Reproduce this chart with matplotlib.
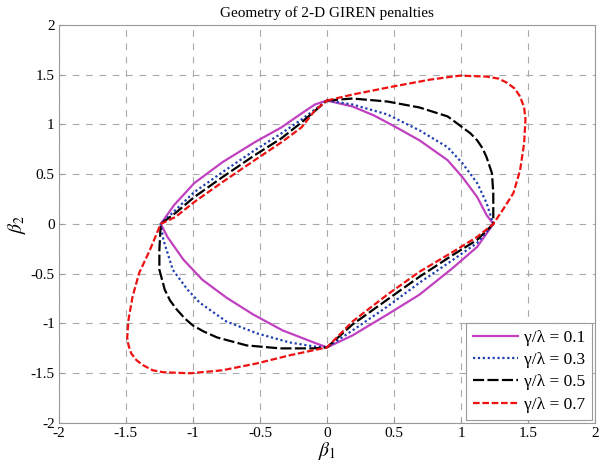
import numpy as np
import matplotlib
matplotlib.use('Agg')
import matplotlib.pyplot as plt

plt.rcParams['font.family'] = ['Liberation Serif', 'DejaVu Serif']
plt.rcParams['mathtext.fontset'] = 'stix'

# contour points, going clockwise from (0, 1.24)
b1_g01 = [0, 0.19, 0.35, 0.49, 0.69, 0.90, 1.01, 1.12, 1.19, 1.24,
          1.12, 0.94, 0.69, 0.45, 0.19, 0,
          -0.10, -0.33, -0.55, -0.75, -0.93, -1.07, -1.19, -1.24,
          -1.14, -0.99, -0.78, -0.54, -0.34, -0.19, -0.09, 0]
b2_g01 = [1.24, 1.18, 1.09, 0.99, 0.84, 0.64, 0.47, 0.27, 0.09, 0,
          -0.23, -0.44, -0.71, -0.91, -1.12, -1.24,
          -1.19, -1.07, -0.91, -0.74, -0.56, -0.36, -0.13, 0,
          0.19, 0.41, 0.62, 0.82, 0.97, 1.11, 1.20, 1.24]

b1_g03 = [0, 0.19, 0.45, 0.69, 0.90, 1.01, 1.12, 1.19, 1.23, 1.24,
          1.12, 0.94, 0.69, 0.45, 0.19, 0,
          -0.10, -0.28, -0.52, -0.75, -0.95, -1.04, -1.15, -1.22, -1.24,
          -1.13, -0.99, -0.78, -0.54, -0.34, -0.19, 0]
b2_g03 = [1.24, 1.20, 1.10, 0.94, 0.77, 0.61, 0.41, 0.21, 0.04, 0,
          -0.19, -0.36, -0.59, -0.83, -1.07, -1.24,
          -1.23, -1.19, -1.10, -0.98, -0.79, -0.66, -0.46, -0.16, 0,
          0.14, 0.32, 0.52, 0.74, 0.91, 1.05, 1.24]

b1_g05 = [0, 0.19, 0.45, 0.69, 0.90, 1.01, 1.07, 1.12, 1.16, 1.19, 1.23, 1.24, 1.24,
          1.12, 0.94, 0.69, 0.45, 0.19, 0,
          -0.10, -0.35, -0.60, -0.82, -0.92, -1.00, -1.06, -1.12, -1.17, -1.21, -1.25, -1.25, -1.24,
          -1.13, -0.99, -0.78, -0.54, -0.34, -0.19, 0]
b2_g05 = [1.24, 1.26, 1.23, 1.17, 1.08, 0.97, 0.91, 0.84, 0.76, 0.67, 0.51, 0.31, 0,
          -0.16, -0.31, -0.53, -0.76, -1.01, -1.24,
          -1.25, -1.25, -1.22, -1.14, -1.08, -1.02, -0.95, -0.86, -0.77, -0.66, -0.46, -0.26, 0,
          0.11, 0.27, 0.47, 0.69, 0.86, 1.02, 1.24]

b1_g07 = [0, 0.19, 0.49, 0.77, 0.99, 1.19, 1.28, 1.34, 1.40, 1.44, 1.47, 1.48, 1.47, 1.44,
          1.39, 1.31, 1.24,
          1.12, 0.94, 0.69, 0.45, 0.19, 0,
          -0.07, -0.28, -0.52, -0.78, -1.02, -1.22, -1.30, -1.37, -1.42, -1.46, -1.48, -1.49,
          -1.48, -1.45, -1.40, -1.32, -1.24,
          -1.13, -0.99, -0.78, -0.54, -0.34, -0.19, -0.09, 0]
b2_g07 = [1.24, 1.30, 1.38, 1.45, 1.49, 1.48, 1.46, 1.42, 1.36, 1.28, 1.17, 1.05, 0.81, 0.54,
          0.31, 0.14, 0,
          -0.13, -0.28, -0.48, -0.71, -0.98, -1.24,
          -1.26, -1.32, -1.40, -1.47, -1.50, -1.49, -1.47, -1.42, -1.37, -1.30, -1.22, -1.14,
          -0.96, -0.73, -0.49, -0.26, 0,
          0.07, 0.22, 0.42, 0.64, 0.82, 0.97, 1.14, 1.24]

labels = ['γ/λ = 0.1', 'γ/λ = 0.3', 'γ/λ = 0.5', 'γ/λ = 0.7']

fig = plt.figure(figsize=(6, 4.69), dpi=100)
ax = fig.add_axes([0.098, 0.098, 0.894, 0.849])

ax.plot(b1_g01, b2_g01, color='#c040c0', lw=1.6, label=labels[0])
ax.plot(b1_g03, b2_g03, color='#1f3fb0', lw=1.6, ls=(0, (1, 1.2)), label=labels[1])
ax.plot(b1_g05, b2_g05, color='black', lw=1.6, ls=(0, (5, 1.5)), label=labels[2])
ax.plot(b1_g07, b2_g07, color='#ee1111', lw=1.6, ls=(0, (3, 1.2)), label=labels[3])

ax.set_xlim(-2, 2)
ax.set_ylim(-2, 2)
ax.set_xticks(np.arange(-2, 2.01, 0.5))
ax.set_yticks(np.arange(-2, 2.01, 0.5))
ax.set_xticklabels(['-2', '-1.5', '-1', '-0.5', '0', '0.5', '1', '1.5', '2'])
ax.set_yticklabels(['-2', '-1.5', '-1', '-0.5', '0', '0.5', '1', '1.5', '2'])
ax.tick_params(direction='in', length=3, color='#999999', labelsize=11, pad=3)
ax.grid(True, color='#aaaaaa', ls=(0, (6, 6)), lw=0.8)
for s in ax.spines.values():
    s.set_color('#999999')

ax.set_title('Geometry of 2-D GIREN penalties', fontsize=11, pad=6)
ax.set_xlabel(r'$\beta_{\mathit{1}}$', fontsize=14, labelpad=0)
ax.set_ylabel(r'$\beta_{\mathit{2}}$', fontsize=14, labelpad=2)

leg = ax.legend(loc='lower right', fontsize=12.5, handlelength=2.6, fancybox=False,
                framealpha=1, edgecolor='#999999', borderaxespad=0.2,
                labelspacing=0.35, handletextpad=0.3)
leg.get_frame().set_linewidth(0.8)

fig.savefig('out.png', dpi=100)
